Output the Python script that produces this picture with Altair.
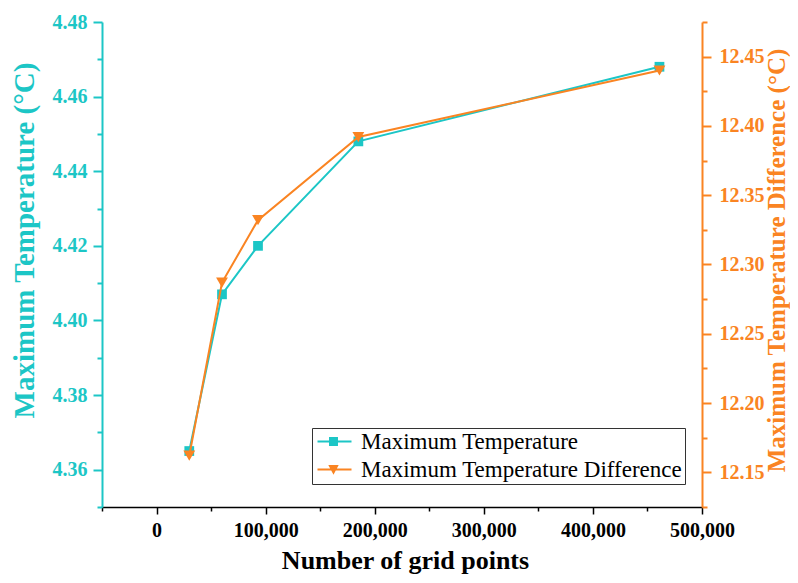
import altair as alt
import pandas as pd

# ---- data ----
grid_points = [30000, 60000, 93000, 185000, 461000]
max_temp = [4.365, 4.407, 4.420, 4.448, 4.468]
max_temp_diff = [12.162, 12.287, 12.332, 12.392, 12.440]
series_names = ["Maximum Temperature", "Maximum Temperature Difference"]

# axis tick values (major + minor)
x_ticks = [-50000 + 50000 * i for i in range(12)]
left_ticks = [round(4.35 + 0.01 * i, 2) for i in range(14)]
right_ticks = [round(12.125 + 0.025 * i, 3) for i in range(15)]

CYAN = "#1CC6C6"
ORANGE = "#FA8422"
FONT = "Liberation Serif"

df = pd.DataFrame({"grid": grid_points, "tmax": max_temp, "tdiff": max_temp_diff})
df_leg = pd.DataFrame({"series": series_names})

x_enc = alt.X(
    "grid:Q",
    scale=alt.Scale(domain=[-50000, 500000], nice=False, zero=False),
    axis=alt.Axis(
        title="Number of grid points",
        titleX=303,
        values=x_ticks,
        labelExpr="datum.value % 100000 == 0 ? format(datum.value, ',') : ''",
        tickSize={"condition": {"test": "datum.value % 100000 == 0", "value": 7}, "value": 4},
        labelOverlap=False,
        labelFlush=False,
        grid=False,
        domainColor="#000000",
        domainWidth=1.5,
        tickColor="#000000",
        tickWidth=1.5,
        labelColor="#000000",
        labelFont=FONT,
        labelFontSize=20,
        labelFontWeight="bold",
        labelPadding=6,
        titleFont=FONT,
        titleFontSize=26,
        titleFontWeight="bold",
        titleColor="#000000",
        titlePadding=7,
    ),
)

left_axis = alt.Axis(
    orient="left",
    title="Maximum Temperature (°C)",
    titleY=218,
    values=left_ticks,
    labelExpr="round(datum.value*100) % 2 == 0 ? format(datum.value, '.2f') : ''",
    tickSize={"condition": {"test": "round(datum.value*100) % 2 == 0", "value": 9}, "value": 5},
    labelOverlap=False,
    labelFlush=False,
    grid=False,
    domainColor=CYAN,
    domainWidth=2,
    tickColor=CYAN,
    tickWidth=2,
    labelColor=CYAN,
    labelFont=FONT,
    labelFontSize=20,
    labelFontWeight="bold",
    labelPadding=6,
    titleColor=CYAN,
    titleFont=FONT,
    titleFontSize=29,
    titleFontWeight="bold",
    titlePadding=13,
)

right_axis = alt.Axis(
    orient="right",
    title="Maximum Temperature Difference (°C)",
    titleAngle=270,
    titleBaseline="alphabetic",
    titleY=238,
    values=right_ticks,
    labelExpr="round(datum.value*1000) % 50 == 0 ? format(datum.value, '.2f') : ''",
    tickSize={"condition": {"test": "round(datum.value*1000) % 50 == 0", "value": 9}, "value": 5},
    labelOverlap=False,
    labelFlush=False,
    grid=False,
    domainColor=ORANGE,
    domainWidth=2,
    tickColor=ORANGE,
    tickWidth=2,
    labelColor=ORANGE,
    labelFont=FONT,
    labelFontSize=20,
    labelFontWeight="bold",
    labelPadding=8,
    titleColor=ORANGE,
    titleFont=FONT,
    titleFontSize=25,
    titleFontWeight="bold",
    titlePadding=20,
)

y_left = alt.Y("tmax:Q", scale=alt.Scale(domain=[4.35, 4.48], nice=False, zero=False), axis=left_axis)
y_right = alt.Y("tdiff:Q", scale=alt.Scale(domain=[12.125, 12.475], nice=False, zero=False), axis=right_axis)

base = alt.Chart(df)
left = alt.layer(
    base.mark_line(color=CYAN, strokeWidth=2).encode(x=x_enc, y=y_left),
    base.mark_point(shape="square", filled=True, color=CYAN, size=95, opacity=1).encode(x=x_enc, y=y_left),
)
right = alt.layer(
    base.mark_line(color=ORANGE, strokeWidth=2).encode(x=x_enc, y=y_right),
    base.mark_point(shape="triangle-down", filled=True, color=ORANGE, size=140, opacity=1).encode(x=x_enc, y=y_right),
)

# legend glyphs: a short line segment (as a thin filled bar) with the marker on it
sq_path = "M-1,-0.12H3.25V0.12H-1Z M0.44,-0.56H1.56V0.56H0.44Z"
tri_path = "M-1,-0.12H3.25V0.12H-1Z M0.35,-0.55H1.65L1,0.65Z"
color_scale = alt.Scale(domain=series_names, range=[CYAN, ORANGE])
shape_scale = alt.Scale(domain=series_names, range=[sq_path, tri_path])
leg = alt.Legend(
    title=None,
    orient="none",
    legendX=210,
    legendY=406,
    strokeColor="#333333",
    fillColor="#ffffff",
    padding=2,
    symbolSize=256,
    symbolStrokeWidth=0,
    symbolOpacity=1,
    labelFont=FONT,
    labelFontSize=23,
    labelColor="#000000",
    labelOffset=24,
    rowPadding=4,
    labelLimit=600,
)
# legend carrier: its own points are placed off the canvas, only the legend shows
legend_layer = alt.Chart(df_leg).mark_point(filled=True, opacity=1).encode(
    x=alt.value(-5000),
    y=alt.value(-5000),
    fill=alt.Fill("series:N", scale=color_scale, legend=leg, sort=series_names),
    shape=alt.Shape("series:N", scale=shape_scale, legend=leg, sort=series_names),
)

chart = (
    alt.layer(left, right, legend_layer)
    .resolve_scale(y="independent")
    .properties(
        width=600,
        height=485,
        autosize=alt.AutoSizeParams(type="none"),
        padding={"left": 94, "top": 14, "right": 88, "bottom": 68},
        background="#ffffff",
    )
    .configure_view(stroke=None)
)

chart.save("out.html", embed_options={"renderer": "svg", "actions": False})
